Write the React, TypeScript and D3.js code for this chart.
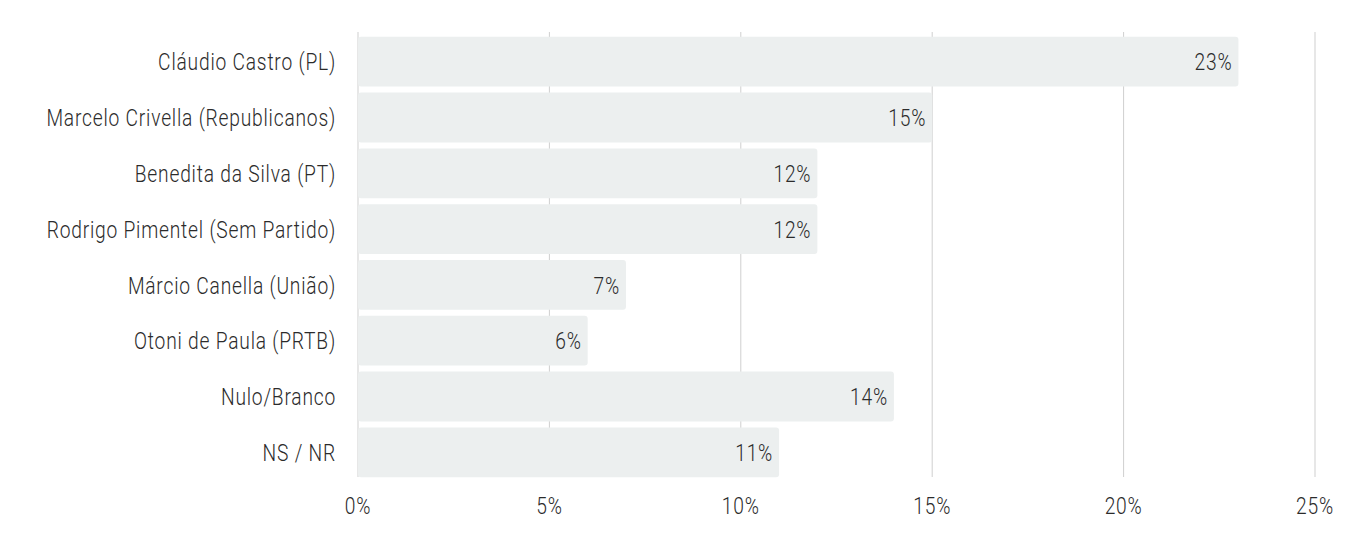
import React from "react";
import * as d3 from "d3";

const categories = [
  "Cláudio Castro (PL)",
  "Marcelo Crivella (Republicanos)",
  "Benedita da Silva (PT)",
  "Rodrigo Pimentel (Sem Partido)",
  "Márcio Canella (União)",
  "Otoni de Paula (PRTB)",
  "Nulo/Branco",
  "NS / NR",
];
const values = [23, 15, 12, 12, 7, 6, 14, 11];
const xTicks = [0, 5, 10, 15, 20, 25];

const W = 1354;
const H = 558;
const FONT = "Roboto, 'DejaVu Sans', sans-serif";
const SX = 0.8;

function T({
  x,
  y,
  anchor,
  children,
}: {
  x: number;
  y: number;
  anchor: "start" | "middle" | "end";
  children: React.ReactNode;
}) {
  return (
    <text
      transform={`translate(${x},${y}) scale(${SX},1)`}
      dy="0.36em"
      textAnchor={anchor}
      fontSize={24}
      fontWeight={300}
      fill="#2b2b2b"
      letterSpacing={1}
    >
      {children}
    </text>
  );
}

export default function App() {
  const x = d3.scaleLinear().domain([0, 25]).range([358, 1315]);
  const y = d3
    .scaleBand<string>()
    .domain(categories)
    .range([34, 480])
    .paddingInner(0.107)
    .paddingOuter(0.05);
  return (
    <svg
      width={W}
      height={H}
      style={{ position: "absolute", left: 0, top: 0, background: "#fff" }}
      fontFamily={FONT}
    >
      {xTicks.map((t) => (
        <line
          key={"g" + t}
          x1={x(t)}
          x2={x(t)}
          y1={32}
          y2={477}
          stroke="#cfcfcf"
          strokeWidth={1}
        />
      ))}
      {categories.map((c, i) => {
        const yy = y(c)!;
        const bw = y.bandwidth();
        return (
          <g key={c}>
            <rect
              x={x(0)}
              y={yy}
              width={x(values[i]) - x(0)}
              height={bw}
              rx={3}
              fill="#ecefef"
            />
            <T x={x(values[i]) - 6} y={yy + bw / 2} anchor="end">
              {values[i]}%
            </T>
            <T x={336} y={yy + bw / 2} anchor="end">
              {c}
            </T>
          </g>
        );
      })}
      {xTicks.map((t) => (
        <T key={"t" + t} x={x(t)} y={505} anchor="middle">
          {t}%
        </T>
      ))}
    </svg>
  );
}
